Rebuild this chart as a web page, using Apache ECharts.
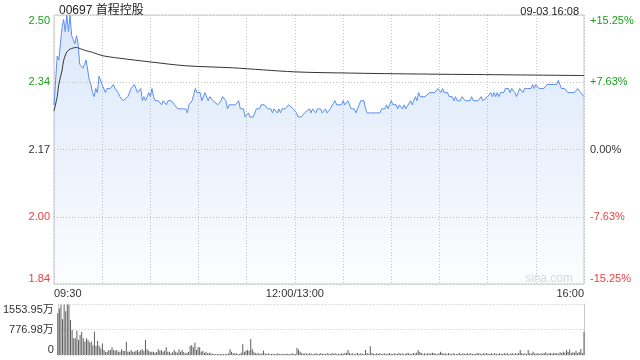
<!DOCTYPE html>
<html><head><meta charset="utf-8">
<script src="https://cdn.jsdelivr.net/npm/echarts@6/dist/echarts.min.js"></script>
<style>html,body{margin:0;padding:0;background:#fff}#c{width:640px;height:360px}</style>
</head><body><div id="c"></div>
<script>
// ---- data ----
const stockTitle = '00697 首程控股';
const stampText = '09-03 16:08';
const prevClose = 2.17;
const axisPct = 15.25;
const timeLabels = {0: '09:30', 150: '12:00/13:00', 330: '16:00'};
const leftTickLabels = ['1.84', '2.00', '2.17', '2.34', '2.50'];
const rightTickLabels = ['-15.25%', '-7.63%', '0.00%', '+7.63%', '+15.25%'];
const volTickLabels = ['0', '776.98万', '1553.95万'];
const volMax = 1553.95;
// minutes since 09:30 (lunch break removed; 150 = 12:00/13:00, 330 = 16:00)
const priceMinutes = [0,2,3,5,6,7,8,9,10,11,12,13,14,15,16,18,19,20,22,23,24,25,26,27,28,29,30,32,33,35,37,38,40,41,43,44,46,48,50,51,52,54,55,56,57,59,60,61,62,63,65,67,68,70,71,73,74,75,77,80,82,83,84,86,87,88,89,91,92,94,95,96,97,99,100,102,104,105,107,108,109,111,113,115,116,118,119,121,122,124,126,128,129,131,132,133,135,136,137,139,140,141,142,144,146,147,149,150,151,152,154,156,157,159,160,161,163,164,166,167,169,170,172,173,175,176,177,179,180,181,182,183,185,187,188,189,191,193,194,195,197,200,203,204,206,207,208,210,211,213,214,215,217,218,219,220,222,223,225,226,227,228,229,231,232,234,235,237,239,240,241,242,243,245,246,248,249,250,251,253,254,256,257,259,260,261,262,264,266,267,268,270,271,272,273,274,275,276,277,278,280,281,283,284,285,287,288,289,290,292,293,295,297,298,299,300,302,303,305,307,309,311,313,314,315,316,318,320,322,324,325,326,328,330];
const prices = [2.28,2.40,2.39,2.47,2.49,2.46,2.50,2.46,2.50,2.45,2.44,2.43,2.45,2.43,2.38,2.37,2.38,2.39,2.34,2.33,2.31,2.30,2.32,2.31,2.35,2.35,2.33,2.31,2.32,2.32,2.33,2.32,2.31,2.30,2.29,2.29,2.30,2.32,2.33,2.32,2.31,2.32,2.29,2.30,2.29,2.31,2.30,2.32,2.30,2.29,2.29,2.28,2.29,2.28,2.29,2.29,2.29,2.28,2.27,2.27,2.27,2.26,2.28,2.29,2.29,2.32,2.31,2.31,2.29,2.31,2.31,2.29,2.30,2.29,2.29,2.28,2.29,2.30,2.29,2.27,2.28,2.28,2.28,2.29,2.27,2.27,2.25,2.26,2.25,2.25,2.27,2.27,2.28,2.28,2.28,2.27,2.27,2.26,2.27,2.26,2.27,2.26,2.27,2.27,2.28,2.28,2.27,2.27,2.26,2.25,2.25,2.26,2.26,2.27,2.26,2.27,2.26,2.27,2.27,2.26,2.27,2.26,2.27,2.27,2.29,2.28,2.28,2.28,2.29,2.28,2.28,2.29,2.27,2.27,2.26,2.27,2.29,2.29,2.27,2.26,2.26,2.26,2.26,2.27,2.27,2.28,2.27,2.29,2.28,2.28,2.27,2.28,2.27,2.28,2.27,2.27,2.29,2.28,2.30,2.29,2.31,2.30,2.30,2.30,2.30,2.31,2.31,2.31,2.32,2.32,2.31,2.32,2.31,2.31,2.30,2.30,2.29,2.30,2.29,2.29,2.30,2.29,2.29,2.29,2.30,2.29,2.29,2.29,2.30,2.29,2.29,2.30,2.30,2.31,2.30,2.31,2.30,2.31,2.30,2.31,2.31,2.32,2.32,2.31,2.32,2.31,2.30,2.31,2.32,2.31,2.32,2.32,2.32,2.33,2.32,2.33,2.32,2.32,2.32,2.33,2.33,2.33,2.33,2.34,2.33,2.32,2.32,2.31,2.31,2.31,2.31,2.32,2.31,2.30];
const avgMinutes = [0,2,3,5,6,8,10,14,17,20,24,30,40,61,82,111,150,185,220,275,330];
const avgPrices = [2.265,2.30,2.331,2.364,2.389,2.41,2.417,2.421,2.417,2.413,2.409,2.401,2.395,2.385,2.376,2.371,2.361,2.358,2.356,2.354,2.352];
// volume per minute (万股), index = minute
const volumes = [
1270,1420,1530,1090,1530,1330,1540,1540,1070,760,
510,510,740,460,610,710,510,410,510,460,
380,410,300,710,280,430,280,200,350,150,
102,102,152,152,234,152,132,152,102,102,
173,132,120,406,102,102,152,102,102,132,
152,102,152,173,120,457,173,132,102,102,
102,71,90,173,132,152,102,132,234,102,
102,51,80,152,102,71,173,102,152,90,
51,71,90,274,305,234,376,152,234,234,
102,132,71,102,51,71,51,40,30,30,
30,30,30,30,30,30,30,51,173,102,
51,51,51,30,30,71,335,102,132,152,
132,488,173,102,51,51,51,30,51,132,
51,30,51,30,30,40,30,30,51,30,
30,40,30,30,40,30,30,51,30,30,
224,
170,100,60,40,50,40,30,60,40,30,
40,50,30,40,60,30,40,30,50,40,
30,60,40,50,30,40,30,50,40,60,
70,150,60,40,50,30,40,60,40,50,
40,30,150,60,40,270,60,40,30,50,
40,60,30,40,50,30,40,60,40,30,
50,40,30,60,40,50,30,40,60,50,
40,30,60,50,70,150,90,60,40,50,
30,60,40,50,70,60,40,30,50,100,
60,40,50,30,60,40,30,50,40,30,
40,60,30,50,40,30,60,40,50,30,
40,30,60,50,40,30,50,40,60,30,
40,50,30,60,40,30,50,40,30,60,
40,50,30,40,60,30,50,40,60,150,
60,40,50,30,150,60,40,100,50,40,
60,30,50,40,60,80,40,50,60,40,
70,50,60,40,80,60,100,70,150,90,
170,60,80,70,130,60,90,180,60,710];

// ---- chart ----
const FONT = 'Arial, "Liberation Sans", "Noto Sans CJK SC", sans-serif';
const GREEN = '#1aa01a', RED = '#f23c3c', DARK = '#333';
const toPct = p => (p / prevClose - 1) * 100;
const priceData = priceMinutes.map((m, i) => [m, toPct(prices[i])]);
const avgData = avgMinutes.map((m, i) => [m, toPct(avgPrices[i])]);
const volData = volumes.map((v, i) => [i, v]);
const tickColor = (idx) => idx > 2 ? GREEN : (idx < 2 ? RED : DARK);
const dotted = {type: [1, 2], color: '#c4c4c4', width: 1};

const chart = echarts.init(document.getElementById('c'), null, {renderer: 'canvas'});
chart.setOption({
  animation: false,
  textStyle: {fontFamily: FONT},
  title: [
    {text: stockTitle, left: 54, top: 0, textStyle: {fontSize: 12, fontWeight: 'normal', color: '#222', fontFamily: FONT}},
    {text: stampText, right: 56, top: 1, textStyle: {fontSize: 11, fontWeight: 'normal', color: '#222', fontFamily: FONT}},
    {text: 'sina.com', right: 62, top: 268, textStyle: {fontSize: 12, fontWeight: 'normal', color: '#d8d8d8', fontFamily: FONT}}
  ],
  grid: [
    {left: 54, right: 56, top: 15, height: 269, show: true, borderColor: '#c8c8c8', borderWidth: 1, backgroundColor: 'transparent'},
    {left: 54, right: 56, top: 304, height: 51}
  ],
  xAxis: [
    {type: 'value', gridIndex: 0, min: 0, max: 330, interval: 30,
     axisLine: {show: false}, axisTick: {show: false},
     splitLine: {show: true, lineStyle: dotted},
     axisLabel: {fontSize: 11, color: DARK, margin: 4, fontFamily: FONT,
       formatter: v => timeLabels[v] || '', alignMinLabel: 'left', alignMaxLabel: 'right'}},
    {type: 'value', gridIndex: 1, min: 0, max: 330, interval: 30,
     axisLine: {show: false}, axisTick: {show: false}, splitLine: {show: false}, axisLabel: {show: false}}
  ],
  yAxis: [
    {type: 'value', gridIndex: 0, min: -axisPct, max: axisPct, interval: axisPct / 2, position: 'left',
     axisLine: {show: false}, axisTick: {show: false},
     splitLine: {show: true, lineStyle: dotted},
     axisLabel: {fontSize: 11, margin: 4, fontFamily: FONT,
       formatter: (v, i) => leftTickLabels[i], color: (v, i) => tickColor(i),
       verticalAlignMinLabel: 'bottom', verticalAlignMaxLabel: 'top'}},
    {type: 'value', gridIndex: 0, min: -axisPct, max: axisPct, interval: axisPct / 2, position: 'right',
     axisLine: {show: false}, axisTick: {show: false}, splitLine: {show: false},
     axisLabel: {fontSize: 11, margin: 6, fontFamily: FONT,
       formatter: (v, i) => rightTickLabels[i], color: (v, i) => tickColor(i),
       verticalAlignMinLabel: 'bottom', verticalAlignMaxLabel: 'top'}},
    {type: 'value', gridIndex: 1, min: 0, max: volMax, interval: volMax / 2, position: 'left',
     axisLine: {show: true, lineStyle: {color: '#c8c8c8'}}, axisTick: {show: false},
     splitLine: {show: true, lineStyle: dotted},
     axisLabel: {fontSize: 11, margin: 4, color: DARK, fontFamily: FONT,
       formatter: (v, i) => volTickLabels[i],
       verticalAlignMinLabel: 'bottom', verticalAlignMaxLabel: 'top'}},
    {type: 'value', gridIndex: 1, min: 0, max: volMax, interval: volMax / 2, position: 'right',
     axisLine: {show: true, lineStyle: {color: '#c8c8c8'}}, axisTick: {show: false},
     splitLine: {show: false}, axisLabel: {show: false}}
  ],
  series: [
    {type: 'line', xAxisIndex: 0, yAxisIndex: 0, data: priceData, symbol: 'none',
     lineStyle: {color: '#5a8ff0', width: 1}, itemStyle: {color: '#5a8ff0'},
     areaStyle: {origin: 'start', color: new echarts.graphic.LinearGradient(0, 0, 0, 1, [
       {offset: 0, color: 'rgba(110,160,235,0.36)'}, {offset: 1, color: 'rgba(110,160,235,0.03)'}])}},
    {type: 'line', xAxisIndex: 0, yAxisIndex: 0, data: avgData, symbol: 'none', smooth: 0.3,
     lineStyle: {color: '#333', width: 1}},
    {type: 'bar', xAxisIndex: 1, yAxisIndex: 2, data: volData, barWidth: 1,
     itemStyle: {color: '#5e5e5e'}}
  ]
});
</script></body></html>
